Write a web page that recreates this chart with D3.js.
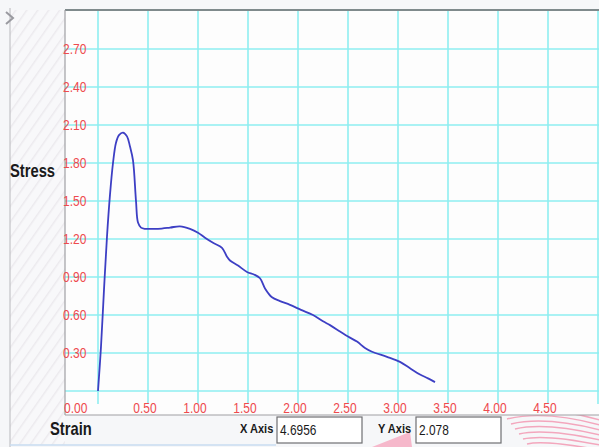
<!DOCTYPE html>
<html>
<head>
<meta charset="utf-8">
<script src="https://cdn.jsdelivr.net/npm/d3@7"></script>
<style>
  html, body { margin: 0; padding: 0; background: #f6f7f9; }
  svg { display: block; font-family: "Liberation Sans", Arial, sans-serif; }
</style>
</head>
<body>
<svg id="chart"></svg>
<script>
// strain / stress readings taken off the trace
const strain = [0.00, 0.03, 0.06, 0.09, 0.12, 0.15, 0.18, 0.21, 0.25, 0.29, 0.32, 0.35, 0.38,
    0.40, 0.43, 0.47, 0.52, 0.60, 0.72, 0.82, 0.92, 1.00, 1.07, 1.15, 1.24, 1.29,
    1.32, 1.40, 1.49, 1.56, 1.62, 1.67, 1.74, 1.82, 1.92, 2.03, 2.15, 2.25, 2.32, 2.42, 2.50, 2.59,
    2.67, 2.74, 2.89, 3.02, 3.12, 3.22, 3.30, 3.37];
const stress = [0.00, 0.35, 0.80, 1.22, 1.55, 1.80, 1.96, 2.02, 2.04, 2.01, 1.93, 1.82, 1.50,
    1.33, 1.29, 1.28, 1.28, 1.28, 1.29, 1.30, 1.28, 1.25, 1.21, 1.17, 1.13, 1.06,
    1.03, 0.99, 0.94, 0.92, 0.89, 0.81, 0.74, 0.71, 0.68, 0.64, 0.60, 0.55, 0.52, 0.47, 0.43, 0.39,
    0.34, 0.31, 0.27, 0.23, 0.18, 0.13, 0.10, 0.07];

const xTicks = [0.5, 1.0, 1.5, 2.0, 2.5, 3.0, 3.5, 4.0, 4.5];
const yTicks = [0.3, 0.6, 0.9, 1.2, 1.5, 1.8, 2.1, 2.4, 2.7];
const xGrid = [0, 0.5, 1.0, 1.5, 2.0, 2.5, 3.0, 3.5, 4.0, 4.5, 5.0];
const yGrid = [0, 0.3, 0.6, 0.9, 1.2, 1.5, 1.8, 2.1, 2.4, 2.7];

const xAxisLabel = "Strain";
const yAxisLabel = "Stress";
const cursorX = "4.6956";
const cursorY = "2.078";

const width = 599, height = 447;
const frame = { left: 65, top: 10, right: 599, bottom: 415 };

const svg = d3.select("#chart")
    .attr("width", width)
    .attr("height", height);

const xScale = d3.scaleLinear().domain([0, 5]).range([98, 598]);
const yScale = d3.scaleLinear().domain([0, 3]).range([391, 11]);

// left side panel with faint diagonal hatching
const defs = svg.append("defs");
const pat = defs.append("pattern")
    .attr("id", "hatch")
    .attr("width", 9).attr("height", 9)
    .attr("patternUnits", "userSpaceOnUse")
    .attr("patternTransform", "rotate(35)");
pat.append("rect").attr("width", 9).attr("height", 9).attr("fill", "#f8f8fa");
pat.append("line").attr("x1", 0).attr("y1", 0).attr("x2", 0).attr("y2", 9)
    .attr("stroke", "#eceaee").attr("stroke-width", 3);

svg.append("rect")
    .attr("x", 10).attr("y", 10).attr("width", frame.left - 10).attr("height", height - 12)
    .attr("fill", "url(#hatch)");

svg.append("line")
    .attr("x1", 10).attr("x2", 10).attr("y1", 8).attr("y2", height)
    .attr("stroke", "#b8b8bc").attr("stroke-width", 1);

svg.append("path")
    .attr("d", "M6,12 L13,18 L6,24")
    .attr("fill", "none").attr("stroke", "#9a9aa0").attr("stroke-width", 2);

// pink decoration at bottom right
const deco = svg.append("g").attr("fill", "none").attr("stroke", "#f3a7bd").attr("stroke-width", 1.5);
d3.range(8).forEach(i => {
    deco.append("path")
        .attr("d", `M${503 + i * 4},${414 + i * 5} Q${545},${404 + i * 6} ${600},${420 + i * 5}`);
});
svg.append("path")
    .attr("d", "M372,447 L410,432 L412,447 Z")
    .attr("fill", "#f6b8cb");

// plot frame
svg.append("rect")
    .attr("x", frame.left).attr("y", frame.top)
    .attr("width", frame.right - frame.left).attr("height", frame.bottom - frame.top)
    .attr("fill", "#fdfdfd");

const grid = svg.append("g").attr("stroke", "#8eeef0").attr("stroke-width", 1.6);
grid.selectAll(".vx").data(xGrid).enter().append("line")
    .attr("x1", d => xScale(d)).attr("x2", d => xScale(d))
    .attr("y1", frame.top).attr("y2", 404);
grid.selectAll(".hy").data(yGrid).enter().append("line")
    .attr("x1", frame.left).attr("x2", frame.right)
    .attr("y1", d => yScale(d)).attr("y2", d => yScale(d));

svg.append("line")
    .attr("x1", frame.left).attr("x2", frame.right).attr("y1", frame.top).attr("y2", frame.top)
    .attr("stroke", "#7f8a8c").attr("stroke-width", 2);
svg.append("line")
    .attr("x1", frame.left).attr("x2", frame.left).attr("y1", frame.top).attr("y2", frame.bottom)
    .attr("stroke", "#a0a0a4").attr("stroke-width", 1.2);
svg.append("line")
    .attr("x1", frame.left).attr("x2", frame.right).attr("y1", frame.bottom).attr("y2", frame.bottom)
    .attr("stroke", "#a0a0a4").attr("stroke-width", 1.2);

// tick labels
const red = "#ee4a4e";
svg.selectAll(".ylab").data(yTicks).enter().append("text")
    .attr("transform", d => `translate(63,${yScale(d) + 5}) scale(0.8,1)`)
    .attr("fill", red).attr("font-size", 15)
    .text(d => d.toFixed(2));

svg.selectAll(".xlab").data(xTicks).enter().append("text")
    .attr("transform", d => `translate(${xScale(d) - 3},${413}) scale(0.8,1)`)
    .attr("text-anchor", "middle")
    .attr("fill", red).attr("font-size", 15)
    .text(d => d.toFixed(2));

svg.append("text")
    .attr("transform", "translate(64,413) scale(0.8,1)")
    .attr("fill", red).attr("font-size", 15)
    .text((0).toFixed(2));

// curve
const points = strain.map((s, i) => [s, stress[i]]);
const line = d3.line()
    .x(d => xScale(d[0]))
    .y(d => yScale(d[1]))
    .curve(d3.curveCatmullRom.alpha(0.5));

svg.append("path")
    .datum(points)
    .attr("d", line)
    .attr("fill", "none")
    .attr("stroke", "#3d3fc4")
    .attr("stroke-width", 1.8)
    .attr("stroke-linejoin", "round");

// axis names
svg.append("text")
    .attr("transform", "translate(10,177) scale(0.82,1)")
    .attr("font-size", 18).attr("font-weight", "bold").attr("fill", "#1a1a1a")
    .text(yAxisLabel);

svg.append("text")
    .attr("transform", "translate(50,435) scale(0.82,1)")
    .attr("font-size", 18).attr("font-weight", "bold").attr("fill", "#1a1a1a")
    .text(xAxisLabel);

// cursor readout boxes
const readout = [
    { label: "X Axis", value: cursorX, lx: 240, bx: 277 },
    { label: "Y Axis", value: cursorY, lx: 378, bx: 416 }
];
readout.forEach(r => {
    svg.append("text")
        .attr("transform", `translate(${r.lx},433) scale(0.85,1)`)
        .attr("font-size", 13).attr("font-weight", "bold").attr("fill", "#1a1a1a")
        .text(r.label);
    svg.append("rect")
        .attr("x", r.bx).attr("y", 417).attr("width", 85).attr("height", 26)
        .attr("fill", "#ffffff").attr("stroke", "#6f6f72").attr("stroke-width", 1.2);
    svg.append("text")
        .attr("transform", `translate(${r.bx + 3},435) scale(0.85,1)`)
        .attr("font-size", 14).attr("fill", "#1a1a1a")
        .text(r.value);
});

svg.append("line")
    .attr("x1", 10).attr("x2", 276).attr("y1", 445).attr("y2", 445)
    .attr("stroke", "#c9dcf0").attr("stroke-width", 1.5);
</script>
</body>
</html>
